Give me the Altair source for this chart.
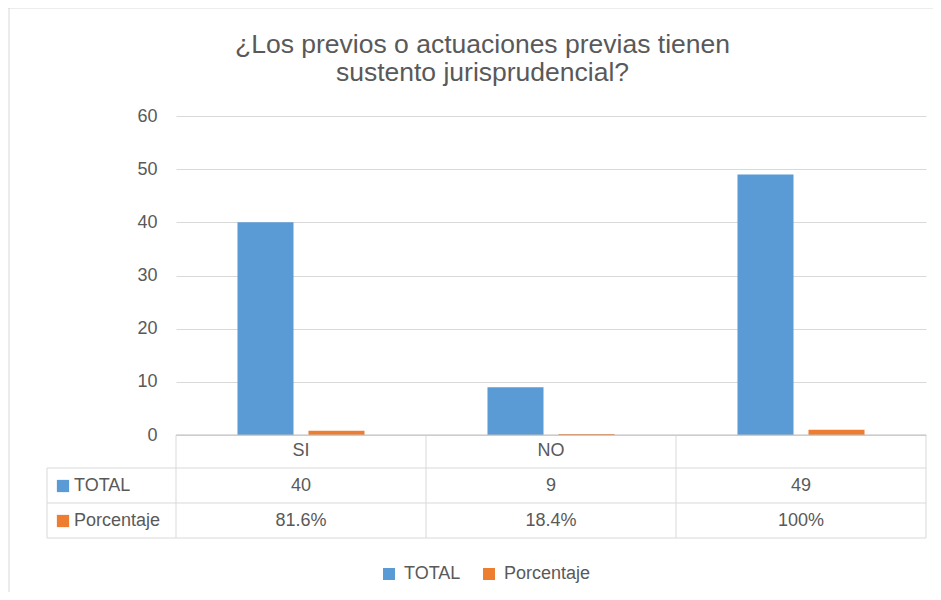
import altair as alt
import pandas as pd

# ---- data ----
categories = ["SI", "NO", "TOT"]
header_labels = ["SI", "NO", ""]
series = ["TOTAL", "Porcentaje"]
total_values = [40, 9, 49]
total_labels = ["40", "9", "49"]
pct_values = [0.816, 0.184, 1.0]
pct_labels = ["81.6%", "18.4%", "100%"]
colors = ["#5b9bd5", "#ed7d31"]
title_lines = ["¿Los previos o actuaciones previas tienen", "sustento jurisprudencial?"]
y_ticks = [0, 10, 20, 30, 40, 50, 60]

rows = []
for c, h, v, l in zip(categories, header_labels, total_values, total_labels):
    rows.append(dict(cat=c, header=h, series="TOTAL", value=v, label=l))
for c, h, v, l in zip(categories, header_labels, pct_values, pct_labels):
    rows.append(dict(cat=c, header=h, series="Porcentaje", value=v, label=l))
df = pd.DataFrame(rows)
one = pd.DataFrame({"k": [0]})

TXT = "#595959"
GRID = "#d9d9d9"
FONT = "Liberation Sans"
W, H = 750, 319

x_scale = alt.Scale(domain=categories, paddingInner=0, paddingOuter=0)
color_scale = alt.Scale(domain=series, range=colors)

base = alt.Chart(df)

bars = base.mark_bar().encode(
    x=alt.X("cat:N", scale=x_scale, axis=None, sort=categories),
    xOffset=alt.XOffset("series:N", sort=series,
                        scale=alt.Scale(domain=series, paddingInner=0.211, paddingOuter=0.866)),
    y=alt.Y("value:Q", scale=alt.Scale(domain=[0, 60]),
            axis=alt.Axis(values=y_ticks, grid=True, domain=False, ticks=False,
                          labelPadding=19, labelFontSize=18, labelColor=TXT,
                          gridColor=GRID, title=None)),
    color=alt.Color("series:N", scale=color_scale, sort=series,
                    legend=alt.Legend(title=None, orient="none", legendX=204, legendY=449,
                                      direction="horizontal", symbolType="square",
                                      symbolSize=144, symbolStrokeWidth=0,
                                      labelFontSize=18, labelColor=TXT, labelOffset=6,
                                      columnPadding=19, padding=0)),
)

layers = [bars]

# table grid lines
def hrule(y, x1, x2, color=GRID):
    return alt.Chart(one).mark_rule(color=color, strokeWidth=1).encode(
        x=alt.value(x1), x2=alt.value(x2), y=alt.value(y))

def vrule(x, y1, y2, color=GRID):
    return alt.Chart(one).mark_rule(color=color, strokeWidth=1).encode(
        x=alt.value(x), y=alt.value(y1), y2=alt.value(y2))

layers += [
    hrule(352, -129, W), hrule(387, -129, W), hrule(422, -129, W),
    vrule(-129, 352, 422), vrule(W, 319, 422),
    base.transform_filter(alt.datum.series == "TOTAL").mark_rule(color=GRID).encode(
        x=alt.X("cat:N", scale=x_scale, axis=None, bandPosition=0),
        y=alt.value(319), y2=alt.value(422)),
    hrule(319, 0, W, "#bfbfbf"),
    # outer chart border (top / left)
    hrule(-108, -168, W + 7), vrule(-167, -108, 484),
]

# title (two centred lines)
for line, ty in zip(title_lines, [-71, -43]):
    layers.append(alt.Chart(one).mark_text(fontSize=26.5, color=TXT, font=FONT,
                                           align="center", baseline="middle").encode(
        x=alt.value(306.5), y=alt.value(ty), text=alt.value(line)))

# header row
layers.append(base.transform_filter(alt.datum.series == "TOTAL").mark_text(
    fontSize=18, color=TXT, font=FONT).encode(
    x=alt.X("cat:N", scale=x_scale, axis=None), y=alt.value(335), text="header:N"))

# value rows
row_y = {"TOTAL": 370, "Porcentaje": 405}
for s, col in zip(series, colors):
    sub = base.transform_filter(alt.datum.series == s)
    layers.append(sub.mark_text(fontSize=18, color=TXT, font=FONT).encode(
        x=alt.X("cat:N", scale=x_scale, axis=None), y=alt.value(row_y[s]), text="label:N"))
    first = sub.transform_filter(alt.datum.cat == categories[0])
    layers.append(first.mark_square(size=150, opacity=1, color=col).encode(
        x=alt.value(-113), y=alt.value(row_y[s])))
    layers.append(first.mark_text(fontSize=18, color=TXT, font=FONT, align="left").encode(
        x=alt.value(-102), y=alt.value(row_y[s]), text="series:N"))

chart = alt.layer(*layers).properties(
    width=W, height=H,
    autosize="none",
    padding={"left": 168, "top": 108, "right": 7, "bottom": 157},
).configure(font=FONT).configure_view(strokeWidth=0)

chart.save("out.html", embed_options={"renderer": "svg", "actions": False})
